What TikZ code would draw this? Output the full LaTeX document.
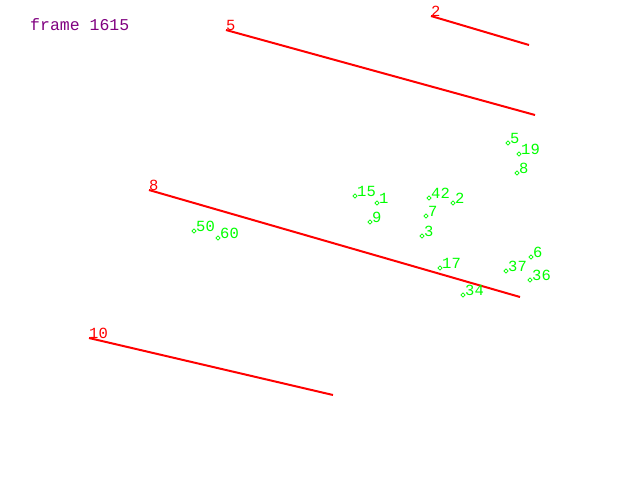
\documentclass[tikz,border=0pt]{standalone}
\usepackage{fontspec}
\setmonofont{Liberation Mono}
\usetikzlibrary{shapes.geometric}
\definecolor{pgreen}{RGB}{0,255,0}
\definecolor{pred}{RGB}{255,0,0}
\definecolor{ppurple}{RGB}{128,0,128}
\tikzset{
  pt/.style={diamond,draw=pgreen,line width=0.8pt,inner sep=0pt,minimum size=4.5pt},
  ptlab/.style={text=pgreen,font=\ttfamily\fontsize{15.5}{15.5}\selectfont,anchor=base west,inner sep=0pt},
  seg/.style={draw=pred,line width=2pt},
  seglab/.style={text=pred,font=\ttfamily\fontsize{15.5}{15.5}\selectfont,anchor=base west,inner sep=0pt},
}
\begin{document}
\begin{tikzpicture}[x=1pt,y=-1pt]
\useasboundingbox (0,0) rectangle (640,480);
\node[text=ppurple,font=\ttfamily\fontsize{16.5}{16.5}\selectfont,anchor=base west,inner sep=0pt] (title) at (30,30.5) {frame 1615};
% red segments
\coordinate (a5) at (226,30); \coordinate (b5) at (535,115);
\coordinate (a2) at (431,16); \coordinate (b2) at (529,45);
\coordinate (a8) at (149,190); \coordinate (b8) at (520,297);
\coordinate (a10) at (89,338); \coordinate (b10) at (333,395);
\draw[seg] (a5) -- (b5);
\draw[seg] (a2) -- (b2);
\draw[seg] (a8) -- (b8);
\draw[seg] (a10) -- (b10);
\node[seglab] (l5) at (226,30) {5};
\node[seglab] (l2) at (431,16) {2};
\node[seglab] (l8) at (149,190) {8};
\node[seglab] (l10) at (89,338) {10};
% green points
\foreach \n/\x/\y in {5/508/143, 19/519/154, 8/517/173, 15/355/196, 1/377/203, 42/429/198, 2/453/203, 7/426/216, 9/370/222, 3/422/236, 50/194/231, 60/218/238, 17/440/268, 34/463/295, 37/506/271, 6/531/257, 36/530/280}{
  \node[pt] (p\n) at (\x,\y) {};
  \node[ptlab] (q\n) at (\x+2,\y) {\n};
}
\end{tikzpicture}
\end{document}
